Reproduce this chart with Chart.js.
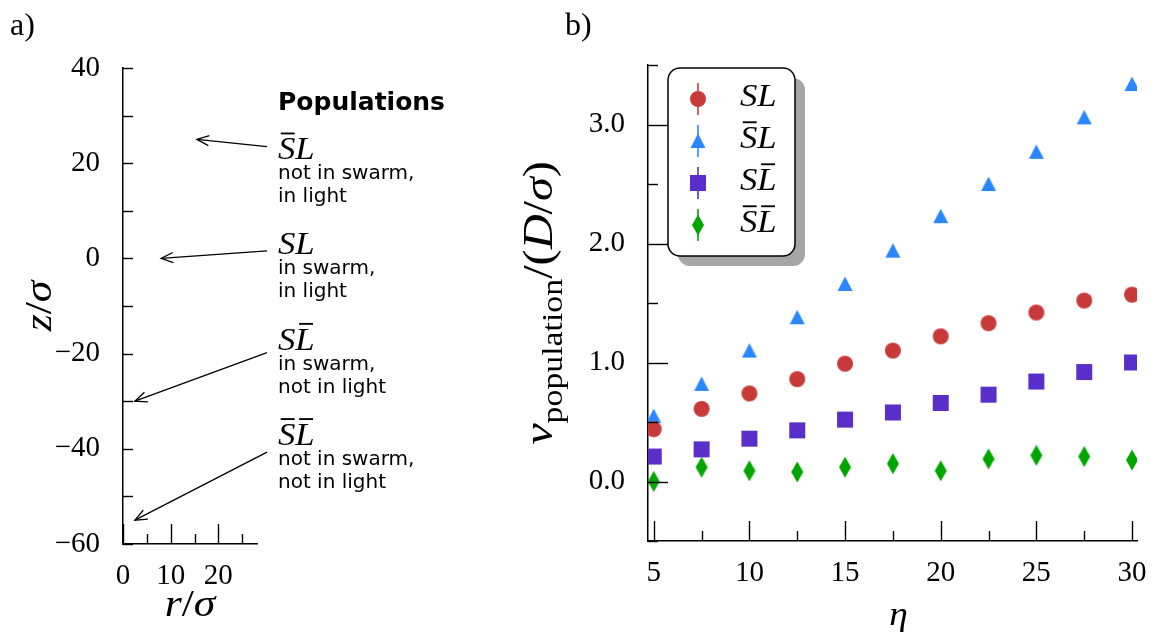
<!DOCTYPE html>
<html>
<head>
<meta charset="utf-8">
<script src="https://cdn.jsdelivr.net/npm/chart.js@4.4.1/dist/chart.umd.min.js"></script>
<style>
  html, body { margin: 0; padding: 0; background: #fff; }
  #fig { position: relative; width: 1172px; height: 636px; overflow: hidden; background: #fff; }
  #panelA { position: absolute; left: 0; top: 0; width: 500px; height: 636px; }
  #panelB { position: absolute; left: 500px; top: 0; width: 672px; height: 636px; }
</style>
</head>
<body>
<div id="fig">
  <div id="panelA"><canvas id="chartA"></canvas></div>
  <div id="panelB"><canvas id="chartB"></canvas></div>
</div>
<script>
// ---------- panel a: geometry sketch ----------
const rTicks = [0, 5, 10, 15, 20, 25];
const zTicks = [-60, -50, -40, -30, -20, -10, 0, 10, 20, 30, 40];
const popNames = ['S\u0304L', 'SL', 'SL\u0304', 'S\u0304L\u0304'];
const popDescriptions = [
  ['not in swarm,', 'in light'],
  ['in swarm,', 'in light'],
  ['in swarm,', 'not in light'],
  ['not in swarm,', 'not in light']
];
const popLabelZ = [20, 0, -20, -40];
const arrowTipR = [15.5, 8, 2.5, 2.5];
const arrowTipZ = [25, 0, -30, -55];
const arrowTailR = [30.2, 30.2, 30.2, 30.2];
const arrowTailZ = [23.5, 1.6, -19.8, -40.7];

// ---------- panel b: population speeds ----------
const etaValues = [5, 7.5, 10, 12.5, 15, 17.5, 20, 22.5, 25, 27.5, 30];
const etaTicks = [5, 7.5, 10, 12.5, 15, 17.5, 20, 22.5, 25, 27.5, 30];
const vTicks = [-0.5, 0, 0.5, 1, 1.5, 2, 2.5, 3, 3.5];
const vSL   = [0.44, 0.61, 0.74, 0.86, 0.99, 1.10, 1.22, 1.33, 1.42, 1.52, 1.57];
const vSbarL = [0.55, 0.82, 1.10, 1.38, 1.66, 1.94, 2.23, 2.50, 2.77, 3.06, 3.34];
const vSLbar = [0.21, 0.27, 0.36, 0.43, 0.52, 0.58, 0.66, 0.73, 0.84, 0.92, 1.00];
const vSbarLbar = [0.00, 0.12, 0.09, 0.08, 0.12, 0.15, 0.09, 0.19, 0.22, 0.21, 0.18];
const seriesNames = ['SL', 'S\u0304L', 'SL\u0304', 'S\u0304L\u0304'];
const seriesValues = [vSL, vSbarL, vSLbar, vSbarLbar];
const seriesColors = ['#C83A3A', '#2B87FF', '#5A2EC8', '#00A600'];
const seriesShapes = ['circle', 'triangle', 'square', 'thinDiamond'];

const SERIF = '"Liberation Serif", "DejaVu Serif", serif';
const SANS = '"DejaVu Sans", sans-serif';

// marker glyphs
function makeMarker(shape, color) {
  const c = document.createElement('canvas');
  c.width = 24; c.height = 24;
  const g = c.getContext('2d');
  const m = 12;
  g.fillStyle = color;
  g.beginPath();
  if (shape === 'circle') {
    g.arc(m, m, 8, 0, Math.PI * 2);
  } else if (shape === 'triangle') {
    g.moveTo(m, m - 7.5); g.lineTo(m + 7.5, m + 7); g.lineTo(m - 7.5, m + 7); g.closePath();
  } else if (shape === 'square') {
    g.rect(m - 8, m - 8, 16, 16);
  } else {
    g.moveTo(m, m - 10.5); g.lineTo(m + 6, m); g.lineTo(m, m + 10.5); g.lineTo(m - 6, m); g.closePath();
  }
  g.fill();
  return c;
}
const markers = seriesShapes.map((s, i) => makeMarker(s, seriesColors[i]));

// math-style text: italic letters, optional overbars (combining macron), subscripts
function parseBars(str) {
  const segs = [];
  for (const ch of str) {
    if (ch === '\u0304') { segs[segs.length - 1].bar = true; }
    else segs.push({ t: ch, it: true });
  }
  return segs;
}
function segFont(s, size) {
  return (s.it ? 'italic ' : '') + size + 'px ' + SERIF;
}
// sx widens the glyphs a little so the serif face reads closer to a math font
function drawMath(ctx, segs, x, y, size, align, sx) {
  sx = sx || 1;
  const parts = segs.map(s => {
    const fs = s.sub ? size * 0.7 : size;
    ctx.font = segFont(s, fs);
    return { s, fs, w: ctx.measureText(s.t).width };
  });
  const total = parts.reduce((a, p) => a + p.w, 0);
  ctx.save();
  ctx.translate(x, y);
  ctx.scale(sx, 1);
  let cx = align === 'center' ? -total / 2 : 0;
  ctx.textAlign = 'left';
  ctx.textBaseline = 'alphabetic';
  for (const p of parts) {
    ctx.font = segFont(p.s, p.fs);
    const dy = p.s.sub ? size * 0.24 : 0;
    ctx.fillText(p.s.t, cx, dy);
    if (p.s.bar) {
      const bw = size * 0.4;
      const bc = cx + p.w / 2 + size * 0.03;
      ctx.fillRect(bc - bw / 2, -size * 0.86, bw, Math.max(1.6, size * 0.06));
    }
    cx += p.w;
  }
  ctx.restore();
}

// inward tick marks drawn on the axes
function inwardTicks(cfg) {
  return {
    id: 'inwardTicks',
    afterDatasetsDraw(chart) {
      const { ctx, chartArea: a } = chart;
      const xs = chart.scales.x, ys = chart.scales.y;
      ctx.save();
      ctx.strokeStyle = '#000';
      ctx.lineWidth = 1.4;
      for (const t of xs.ticks) {
        const x = Math.round(xs.getPixelForValue(t.value)) + 0.5;
        const len = (Math.abs(t.value % cfg.xMajor) < 1e-9) ? cfg.xLen[0] : cfg.xLen[1];
        ctx.beginPath(); ctx.moveTo(x, a.bottom); ctx.lineTo(x, a.bottom - len); ctx.stroke();
      }
      for (const t of ys.ticks) {
        const y = Math.round(ys.getPixelForValue(t.value)) + 0.5;
        const len = (Math.abs(t.value % cfg.yMajor) < 1e-9) ? cfg.yLen[0] : cfg.yLen[1];
        ctx.beginPath(); ctx.moveTo(a.left, y); ctx.lineTo(a.left + len, y); ctx.stroke();
      }
      ctx.restore();
    }
  };
}

function tickFont() { return { family: SERIF, size: 29 }; }
const minus = v => (v < 0 ? '\u2212' + Math.abs(v) : String(v));

// ---------- panel a ----------
const panelAExtras = {
  id: 'panelAExtras',
  afterDraw(chart) {
    const { ctx, chartArea: a } = chart;
    const xs = chart.scales.x, ys = chart.scales.y;
    ctx.save();
    ctx.fillStyle = '#000';
    ctx.strokeStyle = '#000';

    // panel letter
    ctx.font = '32px ' + SERIF;
    ctx.textAlign = 'left'; ctx.textBaseline = 'alphabetic';
    ctx.fillText('a)', 10, 35);

    // axis titles
    drawMath(ctx, [{ t: 'r', it: true }, { t: '/', it: false }, { t: '\u03C3', it: true }],
      (a.left + a.right) / 2, 616, 38, 'center', 1.15);
    ctx.save();
    ctx.translate(51, (a.top + a.bottom) / 2);
    ctx.rotate(-Math.PI / 2);
    drawMath(ctx, [{ t: 'z', it: true }, { t: '/', it: false }, { t: '\u03C3', it: true }], 0, 0, 38, 'center', 1.15);
    ctx.restore();

    // arrows
    ctx.lineWidth = 1.3;
    for (let i = 0; i < arrowTipR.length; i++) {
      const x0 = xs.getPixelForValue(arrowTailR[i]), y0 = ys.getPixelForValue(arrowTailZ[i]);
      const x1 = xs.getPixelForValue(arrowTipR[i]), y1 = ys.getPixelForValue(arrowTipZ[i]);
      const ang = Math.atan2(y0 - y1, x0 - x1);
      ctx.beginPath(); ctx.moveTo(x0, y0); ctx.lineTo(x1, y1); ctx.stroke();
      const hl = 13, ha = 0.4;
      ctx.beginPath();
      ctx.moveTo(x1 + hl * Math.cos(ang + ha), y1 + hl * Math.sin(ang + ha));
      ctx.lineTo(x1, y1);
      ctx.lineTo(x1 + hl * Math.cos(ang - ha), y1 + hl * Math.sin(ang - ha));
      ctx.stroke();
    }

    // population key
    const tx = a.right + 21;
    ctx.font = 'bold 25px ' + SANS;
    ctx.textAlign = 'left'; ctx.textBaseline = 'alphabetic';
    ctx.fillText('Populations', tx, a.top + 42);
    for (let i = 0; i < popNames.length; i++) {
      const by = ys.getPixelForValue(popLabelZ[i]) - 4;
      drawMath(ctx, parseBars(popNames[i]), tx, by, 31, 'left', 1.12);
      ctx.font = '20px ' + SANS;
      ctx.fillText(popDescriptions[i][0], tx, by + 20);
      ctx.fillText(popDescriptions[i][1], tx, by + 43);
    }
    ctx.restore();
  }
};

new Chart(document.getElementById('chartA'), {
  type: 'scatter',
  data: { datasets: [{ data: [], pointRadius: 0 }] },
  options: {
    animation: false,
    responsive: true,
    maintainAspectRatio: false,
    events: [],
    layout: { padding: { left: 0, top: 68, right: 243, bottom: 0 } },
    plugins: { legend: { display: false }, tooltip: { enabled: false } },
    scales: {
      x: {
        type: 'linear', min: 0, max: 28.1,
        afterBuildTicks: s => { s.ticks = rTicks.map(v => ({ value: v })); },
        afterFit: s => { s.height = 92; },
        grid: { display: false, drawTicks: false },
        border: { display: true, color: '#000', width: 1.5 },
        ticks: { autoSkip: false, maxRotation: 0, padding: 15, color: '#000', font: tickFont(),
          callback: v => (v % 10 === 0 ? String(v) : '') }
      },
      y: {
        type: 'linear', min: -60, max: 40,
        afterBuildTicks: s => { s.ticks = zTicks.map(v => ({ value: v })); },
        afterFit: s => { s.width = 123; },
        grid: { display: false, drawTicks: false },
        border: { display: true, color: '#000', width: 1.5 },
        ticks: { autoSkip: false, padding: 23, color: '#000', font: tickFont(),
          callback: v => (v % 20 === 0 ? minus(v) : '') }
      }
    }
  },
  plugins: [inwardTicks({ xMajor: 10, xLen: [20, 10], yMajor: 10, yLen: [10, 10] }), panelAExtras]
});

// ---------- panel b ----------
const panelBExtras = {
  id: 'panelBExtras',
  afterDraw(chart) {
    const { ctx, chartArea: a } = chart;
    ctx.save();
    ctx.fillStyle = '#000';

    ctx.font = '32px ' + SERIF;
    ctx.textAlign = 'left'; ctx.textBaseline = 'alphabetic';
    ctx.fillText('b)', 65, 35);

    // axis titles
    drawMath(ctx, [{ t: '\u03B7', it: true }], (a.left + a.right) / 2 + 6, 625, 34, 'center', 1.1);
    ctx.save();
    ctx.translate(52, (a.top + a.bottom) / 2);
    ctx.rotate(-Math.PI / 2);
    drawMath(ctx, [
      { t: 'v', it: true }, { t: 'population', it: false, sub: true },
      { t: '/(', it: false }, { t: 'D', it: true }, { t: '/', it: false },
      { t: '\u03C3', it: true }, { t: ')', it: false }
    ], 0, 0, 42, 'center', 1.15);
    ctx.restore();

    // legend with drop shadow
    const bx = a.left + 20, by = a.top + 3, bw = 127, bh = 188, r = 12;
    ctx.fillStyle = '#A6A6A6';
    ctx.beginPath(); ctx.roundRect(bx + 10, by + 10, bw, bh, r); ctx.fill();
    ctx.fillStyle = '#fff';
    ctx.strokeStyle = '#000';
    ctx.lineWidth = 1.5;
    ctx.beginPath(); ctx.roundRect(bx, by, bw, bh, r); ctx.fill(); ctx.stroke();
    for (let i = 0; i < seriesNames.length; i++) {
      const cy = by + 31 + i * 42;
      const mx = bx + 30;
      ctx.strokeStyle = seriesColors[i];
      ctx.lineWidth = 1.6;
      ctx.beginPath(); ctx.moveTo(mx, cy - 16); ctx.lineTo(mx, cy + 16); ctx.stroke();
      ctx.drawImage(markers[i], mx - 12, cy - 12);
      ctx.fillStyle = '#000';
      drawMath(ctx, parseBars(seriesNames[i]), bx + 72, cy + 7, 31, 'left', 1.12);
    }
    ctx.restore();
  }
};

new Chart(document.getElementById('chartB'), {
  type: 'scatter',
  data: {
    datasets: seriesNames.map((name, i) => ({
      label: name,
      data: etaValues.map((e, k) => ({ x: e, y: seriesValues[i][k] })),
      pointStyle: markers[i],
      pointRadius: 8,
      clip: 0
    }))
  },
  options: {
    animation: false,
    responsive: true,
    maintainAspectRatio: false,
    events: [],
    layout: { padding: { left: 0, top: 65, right: 35, bottom: 0 } },
    plugins: { legend: { display: false }, tooltip: { enabled: false } },
    scales: {
      x: {
        type: 'linear', min: 4.7, max: 30.26,
        afterBuildTicks: s => { s.ticks = etaTicks.map(v => ({ value: v })); },
        afterFit: s => { s.height = 95; },
        grid: { display: false, drawTicks: false },
        border: { display: true, color: '#000', width: 1.5 },
        ticks: { autoSkip: false, maxRotation: 0, padding: 15, color: '#000', font: tickFont(),
          callback: v => (v % 5 === 0 ? String(v) : '') }
      },
      y: {
        type: 'linear', min: -0.5, max: 3.5,
        afterBuildTicks: s => { s.ticks = vTicks.map(v => ({ value: v })); },
        afterFit: s => { s.width = 148; },
        grid: { display: false, drawTicks: false },
        border: { display: true, color: '#000', width: 1.5 },
        ticks: { autoSkip: false, padding: 23, color: '#000', font: tickFont(),
          callback: v => (v % 1 === 0 ? v.toFixed(1) : '') }
      }
    }
  },
  plugins: [inwardTicks({ xMajor: 5, xLen: [20, 10], yMajor: 1, yLen: [20, 10] }), panelBExtras]
});
</script>
</body>
</html>
